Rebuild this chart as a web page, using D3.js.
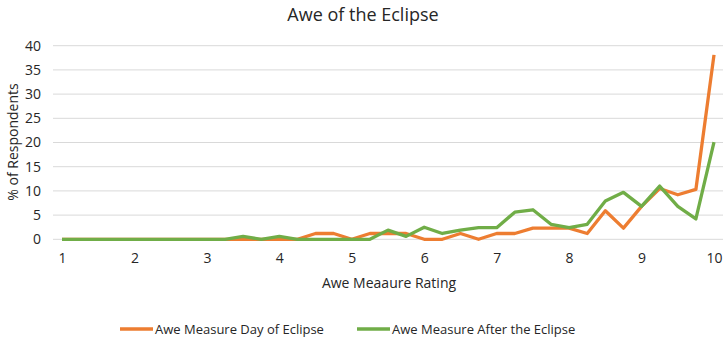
<!DOCTYPE html>
<html>
<head>
<meta charset="utf-8">
<script src="https://cdn.jsdelivr.net/npm/d3@7"></script>
<style>
  body { margin: 0; background: #fff; }
  text { font-family: "Open Sans", "Noto Sans", sans-serif; fill: #262626; }
</style>
</head>
<body>
<div id="chart"></div>
<script>
// awe ratings, in quarter steps
const ratings = [1, 1.25, 1.5, 1.75, 2, 2.25, 2.5, 2.75, 3, 3.25, 3.5, 3.75, 4, 4.25, 4.5, 4.75,
  5, 5.25, 5.5, 5.75, 6, 6.25, 6.5, 6.75, 7, 7.25, 7.5, 7.75, 8, 8.25, 8.5, 8.75, 9, 9.25, 9.5, 9.75, 10];
const dayOf = [0, 0, 0, 0, 0, 0, 0, 0, 0, 0, 0, 0, 0, 0, 1.2, 1.2,
  0, 1.2, 1.2, 1.2, 0, 0, 1.2, 0, 1.2, 1.2, 2.3, 2.3, 2.3, 1.2, 5.9, 2.3, 6.8, 10.5, 9.2, 10.3, 38.1];
const after = [0, 0, 0, 0, 0, 0, 0, 0, 0, 0, 0.6, 0, 0.6, 0, 0, 0,
  0, 0, 1.9, 0.6, 2.5, 1.2, 1.9, 2.4, 2.4, 5.6, 6.1, 3.1, 2.4, 3.1, 7.9, 9.7, 6.8, 11.0, 6.8, 4.2, 20.1];
const xTicks = [1, 2, 3, 4, 5, 6, 7, 8, 9, 10];
const yTicks = [0, 5, 10, 15, 20, 25, 30, 35, 40];

const series = [
  { name: "Awe Measure Day of Eclipse", values: dayOf, color: "#ED7D31" },
  { name: "Awe Measure After the Eclipse", values: after, color: "#70AD47" }
];

const width = 726, height = 339;

const svg = d3.select("#chart").append("svg")
  .attr("width", width)
  .attr("height", height);

const x = d3.scaleLinear().domain([1, 10]).range([62, 714]);
const y = d3.scaleLinear().domain([0, 40]).range([239.3, 45.7]);

// gridlines
svg.append("g")
  .selectAll("line")
  .data(yTicks)
  .join("line")
  .attr("x1", 53).attr("x2", 723)
  .attr("y1", d => y(d)).attr("y2", d => y(d))
  .attr("stroke", "#d9d9d9")
  .attr("stroke-width", 1);

// y axis labels
const yAxis = svg.append("g")
  .attr("transform", "translate(53,0)")
  .call(d3.axisLeft(y).tickValues(yTicks).tickSize(0).tickPadding(12));
yAxis.select(".domain").remove();
yAxis.selectAll("text").style("font-size", "14px").attr("fill", "#262626");

// x axis labels
const xAxis = svg.append("g")
  .attr("transform", "translate(0,249)")
  .call(d3.axisBottom(x).tickValues(xTicks).tickSize(0).tickPadding(4));
xAxis.select(".domain").remove();
xAxis.selectAll("text").style("font-size", "14px").attr("fill", "#262626");

const line = d3.line()
  .x((d, i) => x(ratings[i]))
  .y(d => y(d));

svg.append("g")
  .selectAll("path")
  .data(series)
  .join("path")
  .attr("d", d => line(d.values))
  .attr("fill", "none")
  .attr("stroke", d => d.color)
  .attr("stroke-width", 3.3)
  .attr("stroke-linejoin", "round");

// titles
svg.append("text")
  .attr("x", 363).attr("y", 21)
  .attr("text-anchor", "middle")
  .style("font-size", "18px")
  .text("Awe of the Eclipse");

svg.append("text")
  .attr("transform", "translate(18,142) rotate(-90)")
  .attr("text-anchor", "middle")
  .style("font-size", "14px")
  .text("% of Respondents");

svg.append("text")
  .attr("x", 389).attr("y", 288)
  .attr("text-anchor", "middle")
  .style("font-size", "14px")
  .text("Awe Meaaure Rating");

// legend
const legend = svg.append("g")
  .selectAll("g")
  .data(series)
  .join("g")
  .attr("transform", (d, i) => `translate(${i === 0 ? 120 : 357},329)`);

legend.append("line")
  .attr("x1", 0).attr("x2", 33)
  .attr("y1", 0).attr("y2", 0)
  .attr("stroke", d => d.color)
  .attr("stroke-width", 3.3);

legend.append("text")
  .attr("x", 35).attr("y", 5)
  .style("font-size", "13px")
  .text(d => d.name);
</script>
</body>
</html>
